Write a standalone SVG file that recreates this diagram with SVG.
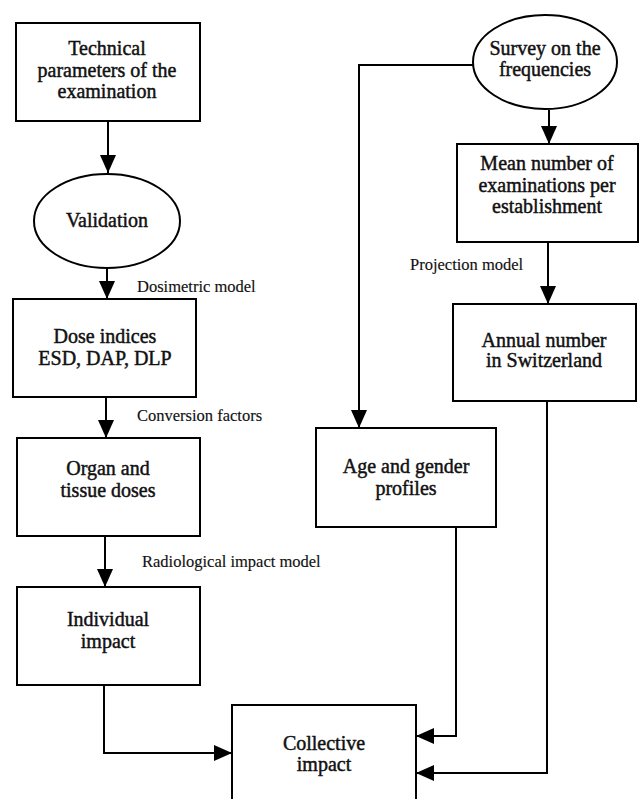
<svg xmlns="http://www.w3.org/2000/svg" width="639" height="799" viewBox="0 0 639 799">
<style>
.box{fill:#fff;stroke:#000;stroke-width:2}
.t{font-family:"Liberation Serif",serif;font-size:20px;text-anchor:middle;fill:#111;stroke:#111;stroke-width:0.45}
.lbl{font-family:"Liberation Serif",serif;font-size:16.5px;fill:#111;stroke:#111;stroke-width:0.15}
.c{fill:none;stroke:#000;stroke-width:2;marker-end:url(#ah)}
</style>
<defs>
<marker id="ah" markerUnits="userSpaceOnUse" markerWidth="18" markerHeight="16" refX="18" refY="8" orient="auto" viewBox="0 0 18 16">
<path d="M0,0 L18,8 L0,16 z" fill="#000"/>
</marker>
</defs>
<rect width="639" height="799" fill="#fff"/>
<g id="connectors">
<path class="c" d="M108,121 V173"/>
<path class="c" d="M107,268 V299"/>
<path class="c" d="M106,397 V438"/>
<path class="c" d="M105,536 V587"/>
<path class="c" d="M104,685 V753 H232"/>
<path class="c" d="M473,65 H359 V428"/>
<path class="c" d="M549,110 V144"/>
<path class="c" d="M548,242 V304"/>
<path class="c" d="M456,527 V736 H416"/>
<path class="c" d="M547,401 V773 H416"/>
</g>
<g id="labels">
<text class="lbl" x="137" y="292">Dosimetric model</text>
<text class="lbl" x="137" y="421">Conversion factors</text>
<text class="lbl" x="142" y="567">Radiological impact model</text>
<text class="lbl" x="410" y="270">Projection model</text>
</g>
<g id="technical">
<rect class="box" x="16" y="23" width="184" height="98"/>
<text class="t" x="107" y="55">Technical</text>
<text class="t" x="107" y="77">parameters of the</text>
<text class="t" x="107" y="98">examination</text>
</g>
<g id="validation">
<ellipse class="box" cx="107" cy="221" rx="73" ry="47"/>
<text class="t" x="107" y="227">Validation</text>
</g>
<g id="dose">
<rect class="box" x="13" y="299" width="183" height="98"/>
<text class="t" x="105" y="343">Dose indices</text>
<text class="t" x="105" y="365">ESD, DAP, DLP</text>
</g>
<g id="organ">
<rect class="box" x="17" y="438" width="183" height="98"/>
<text class="t" x="108" y="475">Organ and</text>
<text class="t" x="108" y="497">tissue doses</text>
</g>
<g id="individual">
<rect class="box" x="17" y="587" width="183" height="98"/>
<text class="t" x="108" y="626">Individual</text>
<text class="t" x="108" y="648">impact</text>
</g>
<g id="survey">
<ellipse class="box" cx="545" cy="62" rx="72" ry="47"/>
<text class="t" x="545" y="55">Survey on the</text>
<text class="t" x="545" y="76">frequencies</text>
</g>
<g id="mean">
<rect class="box" x="457" y="144" width="181" height="98"/>
<text class="t" x="547" y="170">Mean number of</text>
<text class="t" x="547" y="192">examinations per</text>
<text class="t" x="547" y="213">establishment</text>
</g>
<g id="annual">
<rect class="box" x="453" y="304" width="183" height="97"/>
<text class="t" x="544" y="347">Annual number</text>
<text class="t" x="544" y="367">in Switzerland</text>
</g>
<g id="age">
<rect class="box" x="316" y="428" width="180" height="99"/>
<text class="t" x="406" y="473">Age and gender</text>
<text class="t" x="406" y="495">profiles</text>
</g>
<g id="collective">
<rect class="box" x="232" y="705" width="184" height="100"/>
<text class="t" x="324" y="750">Collective</text>
<text class="t" x="324" y="771">impact</text>
</g>
</svg>
